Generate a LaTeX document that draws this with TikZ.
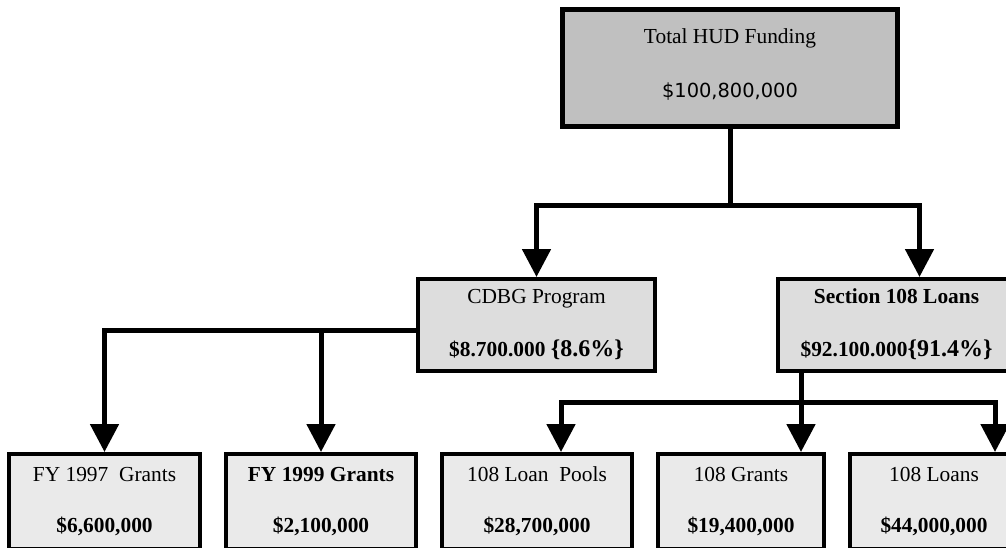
\documentclass[tikz,border=0pt]{standalone}
\usepackage{fontspec}
\setmainfont{Liberation Serif}
\newfontfamily\sumfont{DejaVu Sans}
\usetikzlibrary{arrows.meta}
\definecolor{hudgray}{RGB}{192,192,192}
\definecolor{midgray}{RGB}{221,221,221}
\definecolor{lowgray}{RGB}{234,234,234}

\tikzset{
  box/.style={draw, rectangle, align=center, inner sep=0pt, font=\fontsize{10.7}{12.8}\selectfont},
  hudbox/.style={box, fill=hudgray, line width=2.5pt, minimum width=167.5pt, minimum height=58.5pt,
    execute at end node={\rule[-5.3pt]{0pt}{5.3pt}}},
  midbox/.style={box, fill=midgray, line width=2pt, minimum width=118.5pt, minimum height=46pt,
    execute at begin node={\rule{0pt}{14pt}}, execute at end node={\rule[-2.5pt]{0pt}{2.5pt}}},
  lowbox/.style={box, fill=lowgray, line width=2pt, minimum height=47.5pt,
    execute at begin node={\rule{0pt}{10pt}}, execute at end node={\rule[-2pt]{0pt}{2pt}}},
  wire/.style={line width=2.5pt},
  flow/.style={wire, -{Triangle[length=14pt,width=14pt]}}
}

\begin{document}
\begin{tikzpicture}[x=0.5pt, y=-0.5pt]

  \useasboundingbox (0,0) rectangle (1006,547);
  \clip (0,0) rectangle (1006,547);

  % boxes
  \node[hudbox] (hud) at (730,68) {Total HUD Funding\\[14.2pt]{\sumfont\fontsize{9.7}{11.6}\selectfont \$100,800,000}};

  \node[midbox] (cdbg) at (536.5,325) {CDBG Program\\[13.7pt]\textbf{\$8.700.000 {\fontsize{12}{14}\selectfont\{8.6\%\}}}};
  \node[midbox] (sec) at (896.5,325) {\textbf{Section 108 Loans}\\[13.7pt]\textbf{\$92.100.000{\fontsize{12}{14}\selectfont\{91.4\%\}}}};

  \node[lowbox, minimum width=95.5pt] (fy97) at (104.5,501.5) {FY 1997\ \ Grants\\[12.7pt]\textbf{\$6,600,000}};
  \node[lowbox, minimum width=95pt] (fy99) at (321,501.5) {\textbf{FY 1999 Grants}\\[12.7pt]\textbf{\$2,100,000}};
  \node[lowbox, minimum width=95pt] (pools) at (537,501.5) {108 Loan\ \ Pools\\[12.7pt]\textbf{\$28,700,000}};
  \node[lowbox, minimum width=83pt] (grants) at (741,501.5) {108 Grants\\[12.7pt]\textbf{\$19,400,000}};
  \node[lowbox, minimum width=84pt] (loans) at (934,501.5) {108 Loans\\[12.7pt]\textbf{\$44,000,000}};

  % split points
  \coordinate (hsplit) at (730,205);
  \coordinate (lsplit) at ([yshift=-2.5pt]cdbg.west);
  \coordinate (rsplit) at (801,402);

  % HUD -> programs
  \draw[wire] (hud.south) -- (hsplit);
  \draw[flow] (hsplit) -| (cdbg.north);
  \draw[flow] (hsplit) -| ([xshift=11.5pt]sec.north);

  % CDBG -> grants
  \draw[flow] (lsplit) -| (fy97.north);
  \draw[flow] (lsplit -| fy99.north) -- (fy99.north);

  % Section 108 -> pools, grants, loans
  \draw[wire] (sec.south -| rsplit) -- (rsplit);
  \draw[flow] (rsplit) -- (rsplit |- grants.north);
  \draw[flow] (rsplit) -| ([xshift=12pt]pools.north);
  \draw[flow] (rsplit) -| ([xshift=30.5pt]loans.north);

\end{tikzpicture}
\end{document}
